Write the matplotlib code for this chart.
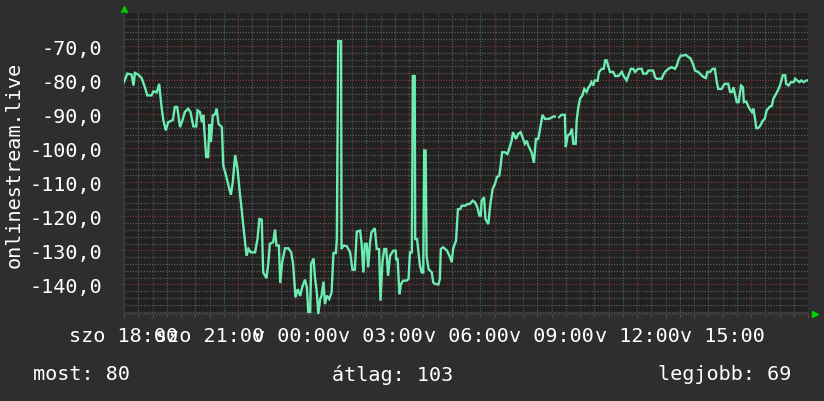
import numpy as np
import matplotlib
matplotlib.use("Agg")
import matplotlib.pyplot as plt
from matplotlib.ticker import FixedLocator, FuncFormatter

# ---- data: (minutes since Saturday 18:00, value) ----
seg_evening = [(0, -80.6), (7, -78.1), (16, -78.4), (20, -81.6), (23, -77.9), (30, -78.4),
               (37, -79.4), (44, -82.1), (49, -84.5), (58, -84.5), (62, -83.3), (69, -83.6),
               (74, -81.1), (79, -87.9), (83, -91.9), (88, -94.8), (93, -92.4), (103, -91.7),
               (107, -87.9), (112, -87.9), (118, -93.8), (124, -91.4), (128, -89.4), (135, -88.4),
               (140, -89.4), (146, -93.6), (152, -93.6), (155, -88.9), (160, -89.4), (164, -92.4),
               (167, -90.2), (173, -102.6), (177, -102.6), (180, -92.9), (183, -98.2), (187, -90.4),
               (192, -90.0), (195, -88.4), (199, -92.9), (206, -93.8), (209, -105.1), (215, -108.1),
               (220, -111.0), (225, -113.7), (229, -110.0), (234, -102.0), (239, -106.1),
               (243, -112.0), (248, -118.4), (253, -125.2), (258, -131.6), (262, -129.6),
               (267, -130.6), (276, -130.6), (281, -126.7), (285, -120.8)]
seg_night = [(290, -121.0), (293, -136.5), (300, -138.2), (304, -133.5), (307, -128.1),
             (314, -127.6), (318, -123.9), (321, -128.6), (326, -128.6), (329, -139.6),
             (333, -133.5), (339, -129.4), (346, -129.4), (352, -130.6), (356, -134.0),
             (361, -143.8), (366, -141.4), (371, -143.4), (375, -140.9), (381, -138.6),
             (385, -140.9), (388, -148.1), (392, -148.1), (394, -134.0), (399, -132.4),
             (402, -137.9), (406, -142.4), (409, -148.7), (413, -144.3), (416, -143.3),
             (420, -139.2), (423, -145.8), (427, -143.3), (432, -144.3), (437, -142.4),
             (441, -130.8), (446, -130.8), (448, -126.9), (451, -68.6), (457, -68.6),
             (458, -129.6), (462, -128.6), (469, -128.8), (476, -130.6), (481, -135.7),
             (486, -135.7), (490, -124.5), (497, -124.2), (500, -127.6), (504, -136.5),
             (507, -128.1), (511, -128.1), (514, -135.0), (518, -127.6), (521, -124.7),
             (528, -123.5), (532, -129.6), (537, -129.6), (540, -144.8), (544, -133.5),
             (548, -129.6), (552, -129.6), (556, -137.5), (560, -131.6)]
seg_dawn = [(567, -130.1), (572, -130.1), (573, -132.6), (576, -132.6), (580, -142.9),
            (583, -139.9), (588, -138.9), (595, -138.9), (599, -138.4), (602, -130.6),
            (606, -130.6), (608, -78.8), (612, -78.8), (613, -126.7), (617, -126.7),
            (620, -130.6), (623, -134.5), (627, -136.5), (630, -136.5), (632, -100.7),
            (635, -100.7), (637, -131.6), (641, -135.5), (648, -136.5), (651, -139.4),
            (655, -139.9), (662, -140.0), (665, -138.4), (667, -129.6), (672, -129.1),
            (680, -130.1), (685, -131.6), (690, -133.5), (693, -129.4), (699, -127.2),
            (703, -117.9), (708, -117.9), (711, -116.9), (718, -116.9), (723, -116.4),
            (728, -116.4), (734, -115.4), (739, -115.9), (744, -117.4), (748, -119.8),
            (751, -119.8), (753, -115.4), (758, -114.4), (761, -120.8), (767, -122.3),
            (771, -116.7), (776, -112.0), (781, -110.5), (785, -108.5), (790, -108.1),
            (793, -105.1), (796, -101.2), (802, -101.2), (807, -101.7), (811, -100.2),
            (816, -97.8), (819, -95.3), (825, -97.3), (830, -95.8), (835, -95.3),
            (839, -96.8), (844, -98.7), (848, -97.8), (851, -99.2)]
seg_morning = [(858, -101.2), (863, -104.3), (867, -97.3), (872, -97.3), (876, -94.3),
               (881, -90.2), (886, -91.4), (895, -91.4), (904, -90.7), (907, -90.7),
               (910, np.nan), (916, -90.9), (921, -90.2), (928, -90.2), (930, -99.7),
               (934, -96.3), (939, -95.8), (943, -94.3), (946, -98.7), (951, -98.7),
               (953, -91.9), (956, -88.4), (960, -85.5), (965, -84.5), (969, -82.6),
               (974, -83.5), (977, -82.4), (981, -81.6), (984, -80.6), (988, -81.6),
               (991, -80.1), (997, -80.2), (1000, -77.6), (1006, -76.7), (1010, -76.7),
               (1013, -74.2), (1016, -74.2), (1020, -76.2), (1023, -77.6), (1030, -77.6),
               (1034, -78.8), (1041, -78.8), (1048, -77.6), (1051, -78.6), (1058, -80.1),
               (1062, -78.6), (1067, -76.7), (1072, -76.7), (1076, -77.6), (1082, -76.7),
               (1090, -76.7), (1093, -78.1), (1100, -78.1), (1104, -77.2), (1114, -77.2),
               (1118, -79.1), (1121, -79.6), (1132, -79.6), (1135, -78.6)]
seg_afternoon = [(1139, -77.6), (1146, -76.7), (1153, -76.2), (1160, -76.7), (1164, -75.7),
                 (1167, -74.2), (1172, -72.8), (1177, -72.8), (1183, -72.6), (1188, -73.2),
                 (1193, -73.7), (1199, -75.7), (1202, -77.2), (1209, -77.6), (1216, -78.6),
                 (1220, -79.1), (1225, -79.4), (1228, -77.6), (1234, -77.6), (1239, -76.7),
                 (1244, -76.7), (1248, -80.6), (1251, -82.6), (1258, -82.6), (1262, -81.6),
                 (1265, -81.1), (1272, -81.1), (1276, -83.5), (1280, -83.5), (1283, -82.1),
                 (1286, -84.0), (1290, -86.5), (1294, -86.5), (1297, -83.5), (1299, -81.6),
                 (1303, -82.1), (1305, -86.5), (1310, -86.3), (1316, -88.2), (1322, -89.4),
                 (1325, -88.4), (1328, -90.9), (1331, -94.1), (1335, -94.1), (1339, -93.5),
                 (1345, -91.9), (1349, -91.4), (1353, -88.9), (1359, -87.9), (1364, -87.5),
                 (1367, -85.5), (1373, -84.0), (1378, -82.6), (1381, -81.6), (1387, -78.6),
                 (1392, -78.6), (1394, -81.1), (1399, -81.6), (1404, -80.6), (1410, -80.6),
                 (1413, -79.6), (1417, -80.1), (1422, -80.6), (1426, -80.1), (1431, -80.6),
                 (1437, -80.1), (1440, -80.1)]

tick_minutes = [0, 180, 360, 540, 720, 900, 1080, 1260]
tick_labels = ["szo 18:00", "szo 21:00", "v 00:00", "v 03:00", "v 06:00",
               "v 09:00", "v 12:00", "v 15:00"]
y_ticks = [-70, -80, -90, -100, -110, -120, -130, -140]
series_name = "onlinestream.live"
legend_texts = ["most: 80", "átlag: 103", "legjobb: 69"]

# ---- style ----
BG = "#2e2e2e"
PLOT_BG = "#212121"
LINE = "#6cecb0"
MINOR = "#5a5a5a"
MAJOR = "#7a3636"
TXT = "#ffffff"
FONT = "DejaVu Sans Mono"
FS = 14.5

plt.rcParams['font.family'] = [FONT, 'DejaVu Sans']

all_pts = seg_evening + seg_night + seg_dawn + seg_morning + seg_afternoon
minutes = np.array([p[0] for p in all_pts], dtype=float)
values = np.array([p[1] for p in all_pts], dtype=float)

fig = plt.figure(figsize=(8.24, 4.02), dpi=100, facecolor=BG)
ax = fig.add_axes([124/824, 1 - 315/402, (808-124)/824, (315-14)/402])
ax.set_facecolor(PLOT_BG)

ax.plot(minutes, values, color=LINE, lw=1.7, solid_joinstyle='miter', zorder=3)

ax.set_xlim(0, 1440)
ax.set_ylim(-148.7, -60.3)

ax.xaxis.set_major_locator(FixedLocator(list(range(0, 1441, 60))))
ax.xaxis.set_minor_locator(FixedLocator(list(range(30, 1441, 60))))
lab_map = dict(zip(tick_minutes, tick_labels))
ax.xaxis.set_major_formatter(FuncFormatter(lambda v, p: lab_map.get(int(round(v)), "")))
ax.yaxis.set_major_locator(FixedLocator(y_ticks))
ax.yaxis.set_minor_locator(FixedLocator(list(range(-148, -60, 2))))
ax.yaxis.set_major_formatter(FuncFormatter(lambda v, p: f"{v:.1f}".replace(".", ",")))

ax.grid(which='minor', color=MINOR, lw=0.9, linestyle=(0, (1, 1.2)), zorder=1)
ax.grid(which='major', color=MAJOR, lw=0.9, linestyle=(0, (1, 1.2)), zorder=2)

ax.tick_params(axis='x', which='major', length=3, color=MAJOR, pad=6,
               labelsize=FS, labelcolor=TXT)
ax.tick_params(axis='x', which='minor', length=2, color=MINOR)
ax.tick_params(axis='y', which='major', length=2, color=MAJOR, pad=14,
               labelsize=FS, labelcolor=TXT)
ax.tick_params(axis='y', which='minor', length=0)

for s in ['top', 'right']:
    ax.spines[s].set_visible(False)
for s in ['left', 'bottom']:
    ax.spines[s].set_color("#3a3a3a")
    ax.spines[s].set_linewidth(1.5)

ax.plot([0], [1.012], marker='^', color='#00d000', ms=5, transform=ax.transAxes,
        clip_on=False)
ax.plot([1.01], [0.0], marker='>', color='#00d000', ms=5, transform=ax.transAxes,
        clip_on=False)

fig.text(14/824, 1 - 165/402, series_name, rotation=90, ha='center', va='center',
         color=TXT, fontsize=FS, family=FONT)

fig.text(33/824, 1 - 375/402, legend_texts[0], ha='left', va='center',
         color=TXT, fontsize=FS, family=FONT)
fig.text(393/824, 1 - 375/402, legend_texts[1], ha='center', va='center',
         color=TXT, fontsize=FS, family=FONT)
fig.text(791/824, 1 - 375/402, legend_texts[2], ha='right', va='center',
         color=TXT, fontsize=FS, family=FONT)

fig.savefig("out.png", dpi=100, facecolor=BG)
